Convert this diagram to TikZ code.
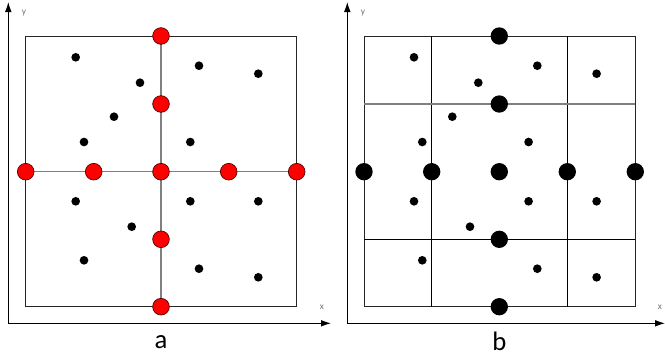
\documentclass[tikz,border=0pt]{standalone}
\usepackage{fontspec}
\setmainfont{Carlito}
\usetikzlibrary{arrows.meta}
\begin{document}
\begin{tikzpicture}[x=0.75pt,y=-0.75pt,
  axis/.style={draw=black,line width=0.75pt,-{Latex[length=7.5pt,width=5pt]}},
  frame/.style={draw=black!85,line width=0.75pt},
  crossline/.style={draw=black!50,line width=1pt},
  gridline/.style={draw=black,line width=0.75pt},
  reddot/.style={circle,fill=red,draw=black!70!red,line width=0.5pt,minimum size=12.5pt,inner sep=0pt},
  bigdot/.style={circle,fill=black,minimum size=13pt,inner sep=0pt},
  smalldot/.style={circle,fill=black,minimum size=6.5pt,inner sep=0pt},
  axlabel/.style={text=black!55,font=\fontsize{7}{8}\selectfont,inner sep=0pt},
  caption/.style={font=\fontsize{20}{22}\selectfont,inner sep=0pt}]
\useasboundingbox (0,0) rectangle (665,358);

% ---------- panel a ----------
\coordinate (aO) at (8.3,323.3);
\coordinate (aY) at (8.3,2);
\coordinate (aX) at (331,323.3);
\draw[axis] (aO) -- (aY);
\draw[axis] (aO) -- (aX);
\node[axlabel] (ay) at (24,13) {y};
\node[axlabel] (ax) at (322,307) {x};

\coordinate (aT) at (161,36);
\coordinate (aU) at (161,104);
\coordinate (aL) at (25.7,171.7);
\coordinate (aLL) at (93.7,171.7);
\coordinate (aC) at (161,171.7);
\coordinate (aRR) at (228.7,171.7);
\coordinate (aR) at (296.7,171.7);
\coordinate (aD) at (161,239.3);
\coordinate (aB) at (161,306.7);

\draw[frame] (25.7,36) rectangle (296.7,306.7);
\draw[crossline] (aT) -- (aB);
\draw[crossline] (aL) -- (aR);

\foreach \n in {aT,aU,aL,aLL,aC,aRR,aR,aD,aB}
  \node[reddot] (\n dot) at (\n) {};

\foreach \px/\py [count=\i] in {75.7/57.3,199/65.7,258.3/73.7,140/82.7,114/116.7,84/142,190.3/142,
    75.7/201.3,190.3/201.3,258.3/201.3,131.7/226.7,84/260.3,199/268.7,258.3/277.3}
  \node[smalldot] (as\i) at (\px,\py) {};

\node[caption] (capa) at (161,342) {a};

% ---------- panel b ----------
\coordinate (bO) at (347.3,323.3);
\coordinate (bY) at (347.3,2);
\coordinate (bX) at (665,323.3);
\draw[axis] (bO) -- (bY);
\draw[axis] (bO) -- (bX);
\node[axlabel] (by) at (363,13) {y};
\node[axlabel] (bx) at (660,307) {x};

\coordinate (bT) at (499.3,36);
\coordinate (bU) at (499.3,104);
\coordinate (bL) at (364,171.7);
\coordinate (bLL) at (431.7,171.7);
\coordinate (bC) at (499.3,171.7);
\coordinate (bRR) at (567.3,171.7);
\coordinate (bR) at (635.3,171.7);
\coordinate (bD) at (499.3,239.3);
\coordinate (bB) at (499.3,306.7);

\draw[frame] (364,36) rectangle (635.3,306.7);
\draw[gridline] (431.7,36) -- (431.7,306.7);
\draw[gridline] (567.3,36) -- (567.3,306.7);
\draw[crossline] (364,104) -- (635.3,104);
\draw[gridline] (364,239.3) -- (635.3,239.3);

\foreach \n in {bT,bU,bL,bLL,bC,bRR,bR,bD,bB}
  \node[bigdot] (\n dot) at (\n) {};

\foreach \px/\py [count=\i] in {75.7/57.3,199/65.7,258.3/73.7,140/82.7,114/116.7,84/142,190.3/142,
    75.7/201.3,190.3/201.3,258.3/201.3,131.7/226.7,84/260.3,199/268.7,258.3/277.3}
  \node[smalldot] (bs\i) at (\px+338.3,\py) {};

\node[caption] (capb) at (499.3,341) {b};
\end{tikzpicture}
\end{document}
